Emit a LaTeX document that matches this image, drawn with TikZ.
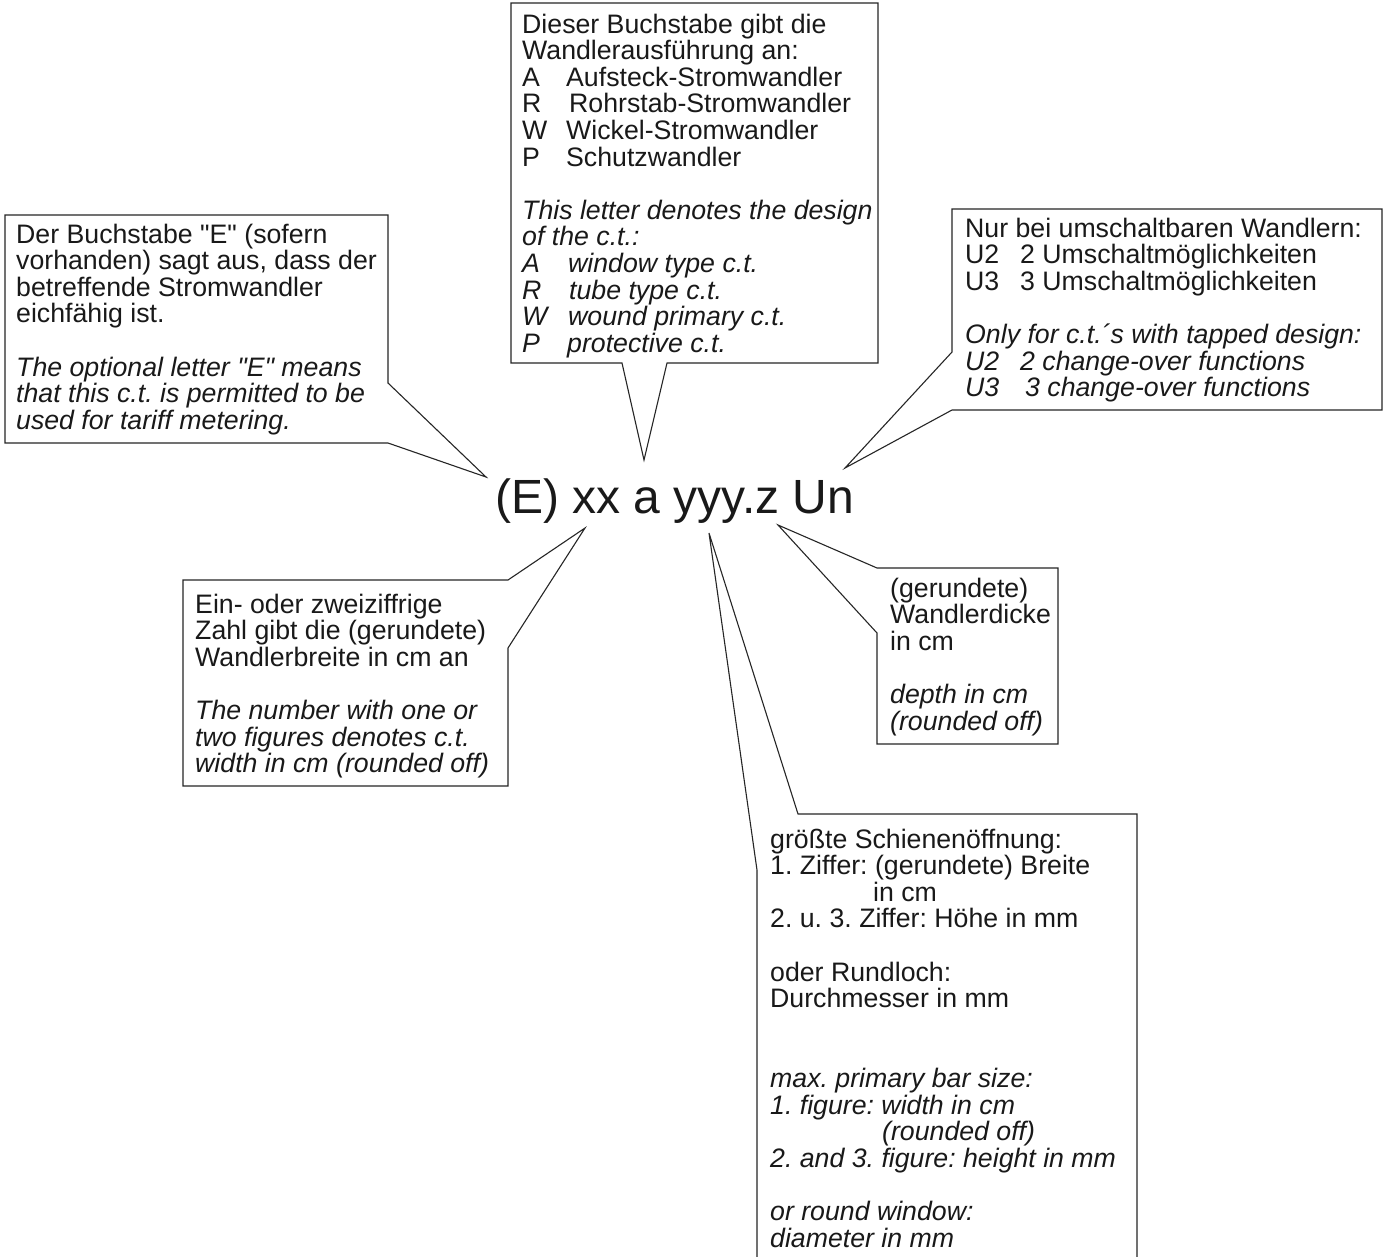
\documentclass[tikz,border=0pt]{standalone}
\usepackage{fontspec}
\setmainfont{Liberation Sans}[Ligatures=TeXOff]
\frenchspacing
\newcommand\delines[1]{\vtop{\frenchspacing\baselineskip=26.6pt\lineskiplimit=-100pt\halign{##\hfil\cr#1\crcr}}}
\newcommand\enlines[1]{\vtop{\frenchspacing\baselineskip=26.6pt\lineskiplimit=-100pt\halign{\itshape##\hfil\cr#1\crcr}}}
\tikzset{
  callout/.style={draw=black!85, line width=1.1pt, fill=white},
  txt/.style={anchor=base west, inner sep=0pt, text=black!90, font=\fontsize{26.7}{26.6}\selectfont},
  code/.style={anchor=base west, inner sep=0pt, text=black!90, font=\fontsize{48}{52}\selectfont}
}
\begin{document}
\begin{tikzpicture}[x=1pt,y=-1pt]
\useasboundingbox[fill=white] (0,0) rectangle (1387,1256);

% central code
\node[code] (code) at (495,513) {(E) xx a yyy.z Un};

% pointer tips
\coordinate (tipE) at (486,477);
\coordinate (tipA) at (644,460);
\coordinate (tipU) at (845,468);
\coordinate (tipX) at (585,528);
\coordinate (tipZ) at (778,525);
\coordinate (tipY) at (709,533);

% callout outlines
\draw[callout] (5,215) -- (388,215) -- (388,383) -- (tipE) -- (388,443) -- (5,443) -- cycle;
\draw[callout] (511,3) -- (878,3) -- (878,363) -- (667,363) -- (tipA) -- (622,363) -- (511,363) -- cycle;
\draw[callout] (952,209) -- (1382,209) -- (1382,410) -- (952,410) -- (tipU) -- (952,352) -- cycle;
\draw[callout] (183,580) -- (508,580) -- (tipX) -- (508,648) -- (508,786) -- (183,786) -- cycle;
\draw[callout] (877,568) -- (1058,568) -- (1058,744) -- (877,744) -- (877,633) -- (tipZ) -- cycle;
\draw[callout] (798,814) -- (1137,814) -- (1137,1290) -- (757,1290) -- (757,870) -- (tipY) -- cycle;

% box 1
\node[txt] (ede) at (16,243) {\delines{Der Buchstabe "E" (sofern\cr vorhanden) sagt aus, dass der\cr betreffende Stromwandler\cr eichfähig ist.}};
\node[txt] (een) at (16,376) {\enlines{The optional letter "E" means\cr that this c.t. is permitted to be\cr used for tariff metering.}};

% box 2
\node[txt] (ade) at (522,33) {\delines{Dieser Buchstabe gibt die\cr Wandlerausführung an:\cr
\makebox[44pt][l]{A}Aufsteck-Stromwandler\cr
\makebox[47pt][l]{R}Rohrstab-Stromwandler\cr
\makebox[44pt][l]{W}Wickel-Stromwandler\cr
\makebox[44pt][l]{P}Schutzwandler}};
\node[txt] (aen) at (522,219.2) {\enlines{This letter denotes the design\cr of the c.t.:\cr
\makebox[46pt][l]{A}window type c.t.\cr
\makebox[47pt][l]{R}tube type c.t.\cr
\makebox[46pt][l]{W}wound primary c.t.\cr
\makebox[45pt][l]{P}protective c.t.}};

% box 3
\node[txt] (ude) at (965,237) {\delines{Nur bei umschaltbaren Wandlern:\cr
\makebox[55pt][l]{U2}2 Umschaltmöglichkeiten\cr
\makebox[55pt][l]{U3}3 Umschaltmöglichkeiten}};
\node[txt] (uen) at (965,343.4) {\enlines{Only for c.t.´s with tapped design:\cr
\makebox[55pt][l]{U2}2 change-over functions\cr
\makebox[60pt][l]{U3}3 change-over functions}};

% box 4
\node[txt] (xde) at (195,613) {\delines{Ein- oder zweiziffrige\cr Zahl gibt die (gerundete)\cr Wandlerbreite in cm an}};
\node[txt] (xen) at (195,719.4) {\enlines{The number with one or\cr two figures denotes c.t.\cr width in cm (rounded off)}};

% box 5
\node[txt] (zde) at (890,597) {\delines{(gerundete)\cr Wandlerdicke\cr in cm}};
\node[txt] (zen) at (890,703.4) {\enlines{depth in cm\cr (rounded off)}};

% box 6
\node[txt] (yde) at (770,848) {\delines{größte Schienenöffnung:\cr
1. Ziffer: (gerundete) Breite\cr
\hspace*{103pt}in cm\cr
2. u. 3. Ziffer: Höhe in mm\cr
\cr
oder Rundloch:\cr
Durchmesser in mm}};
\node[txt] (yen) at (770,1087.4) {\enlines{max. primary bar size:\cr
1. figure: width in cm\cr
\hspace*{112pt}(rounded off)\cr
2. and 3. figure: height in mm\cr
\cr
or round window:\cr
diameter in mm}};
\end{tikzpicture}
\end{document}
